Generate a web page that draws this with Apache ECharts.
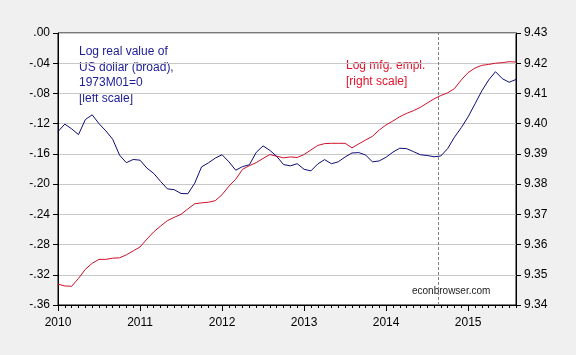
<!DOCTYPE html>
<html>
<head>
<meta charset="utf-8">
<script src="https://cdn.jsdelivr.net/npm/echarts@6/dist/echarts.min.js"></script>
<style>
  html, body { margin: 0; padding: 0; background: #f0f0f0; }
  #chart { width: 576px; height: 355px; }
</style>
</head>
<body>
<div id="chart"></div>
<script>
// Monthly observations, 2010M01 onward (index 0 = 2010M01)
const yearLabels = ['2010', '2011', '2012', '2013', '2014', '2015'];
const monthsPerYear = 12;
const lastIndex = 67;
const breakIndex = 55.6; // vertical dashed marker (mid-2014)

// Log real value of US dollar (broad), 1973M01=0 [left scale]
const dollarValues = [
  -0.1304, -0.1206, -0.1269, -0.1345, -0.1146, -0.1083, -0.1200, -0.1296, -0.1406, -0.1616,
  -0.1717, -0.1674, -0.1683, -0.1788, -0.1858, -0.1964, -0.2063, -0.2074, -0.2124, -0.2127,
  -0.1988, -0.1772, -0.1719, -0.1656, -0.1611, -0.1705, -0.1816, -0.1768, -0.1744, -0.1580,
  -0.1494, -0.1554, -0.1633, -0.1742, -0.1758, -0.1730, -0.1804, -0.1825, -0.1733, -0.1676,
  -0.1730, -0.1705, -0.1641, -0.1588, -0.1583, -0.1615, -0.1706, -0.1693, -0.1644, -0.1576,
  -0.1525, -0.1531, -0.1570, -0.1611, -0.1621, -0.1638, -0.1628, -0.1530, -0.1379, -0.1252,
  -0.1109, -0.0938, -0.0766, -0.0622, -0.0512, -0.0605, -0.0652, -0.0615
];

// Log manufacturing employment [right scale]
const mfgValues = [
  9.3469, 9.3463, 9.3462, 9.3488, 9.3518, 9.3538, 9.3551, 9.3551, 9.3555, 9.3556,
  9.3566, 9.3579, 9.3592, 9.3618, 9.3642, 9.3661, 9.3679, 9.3690, 9.3700, 9.3718,
  9.3735, 9.3738, 9.3740, 9.3745, 9.3765, 9.3793, 9.3816, 9.3849, 9.3861, 9.3871,
  9.3885, 9.3898, 9.3892, 9.3887, 9.3890, 9.3888, 9.3898, 9.3913, 9.3928, 9.3934,
  9.3935, 9.3935, 9.3935, 9.3920, 9.3933, 9.3946, 9.3958, 9.3979, 9.3996, 9.4009,
  9.4023, 9.4034, 9.4043, 9.4054, 9.4068, 9.4082, 9.4093, 9.4102, 9.4116, 9.4145,
  9.4169, 9.4184, 9.4193, 9.4196, 9.4200, 9.4202, 9.4205, 9.4204
];

const leftTicks = { min: -0.36, max: 0, interval: 0.04 };
const rightTicks = { min: 9.34, max: 9.43, interval: 0.01 };

const FONT = '"Liberation Sans", Arial, sans-serif';

const chart = echarts.init(document.getElementById('chart'), null, { renderer: 'canvas' });

function fmtLeft(v) {
  const s = (Math.round(v * 100) / 100).toFixed(2);
  return s.replace('0.', '.');
}
function fmtRight(v) {
  return (Math.round(v * 100) / 100).toFixed(2);
}

const option = {
  backgroundColor: '#f0f0f0',
  animation: false,
  grid: {
    left: 58, right: 60, top: 33, bottom: 50,
    show: true, backgroundColor: '#ffffff', borderColor: '#000000', borderWidth: 1
  },
  xAxis: [
    {
      type: 'value', min: 0, max: lastIndex, interval: monthsPerYear, position: 'bottom',
      axisLine: { show: true, onZero: false, lineStyle: { color: '#000', width: 1 } },
      axisTick: { show: true, length: 6, lineStyle: { color: '#000' } },
      axisLabel: {
        show: true, margin: 12, color: '#000', fontFamily: FONT, fontSize: 12,
        showMaxLabel: false,
        formatter: function (v) {
          const k = Math.round(v / monthsPerYear);
          return (v % monthsPerYear === 0 && yearLabels[k]) ? yearLabels[k] : '';
        }
      },
      splitLine: { show: false }
    },
    {
      type: 'value', min: 0, max: lastIndex, interval: 1, position: 'bottom',
      axisLine: { show: true, onZero: false, lineStyle: { color: '#000', width: 1 } },
      axisTick: { show: true, length: 3, lineStyle: { color: '#000' } },
      axisLabel: { show: false },
      splitLine: { show: false }
    }
  ],
  yAxis: [
    {
      type: 'value', position: 'left',
      min: leftTicks.min, max: leftTicks.max, interval: leftTicks.interval,
      axisLine: { show: true, onZero: false, lineStyle: { color: '#000' } },
      axisTick: { show: true, length: 5, lineStyle: { color: '#000' } },
      axisLabel: { margin: 8, color: '#000', fontFamily: FONT, fontSize: 12, formatter: fmtLeft },
      splitLine: { show: true, lineStyle: { color: '#c8c8c8', width: 1 } }
    },
    {
      type: 'value', position: 'right',
      min: rightTicks.min, max: rightTicks.max, interval: rightTicks.interval,
      axisLine: { show: true, onZero: false, lineStyle: { color: '#000' } },
      axisTick: { show: true, length: 5, lineStyle: { color: '#000' } },
      axisLabel: { margin: 8, color: '#000', fontFamily: FONT, fontSize: 12, formatter: fmtRight },
      splitLine: { show: false }
    }
  ],
  series: [
    {
      name: 'Log mfg. empl.', type: 'line', xAxisIndex: 0, yAxisIndex: 1,
      data: mfgValues.map((v, i) => [i, v]),
      showSymbol: false, symbol: 'none',
      lineStyle: { color: '#d0102a', width: 1 },
      z: 3
    },
    {
      name: 'Log real value of US dollar', type: 'line', xAxisIndex: 0, yAxisIndex: 0,
      data: dollarValues.map((v, i) => [i, v]),
      showSymbol: false, symbol: 'none',
      lineStyle: { color: '#0c0c78', width: 1 },
      z: 4,
      markLine: {
        silent: true, symbol: ['none', 'none'],
        label: { show: false },
        lineStyle: { color: '#808080', type: [3, 2], width: 1 },
        data: [{ xAxis: breakIndex }]
      }
    }
  ],
  graphic: [
    {
      type: 'text', left: 79, top: 44,
      style: {
        text: 'Log real value of\nUS dollar (broad),\n1973M01=0\n[left scale]',
        fill: '#1c1c96', font: '12px ' + FONT, lineHeight: 15.6
      }
    },
    {
      type: 'text', left: 346, top: 58,
      style: {
        text: 'Log mfg. empl.\n[right scale]',
        fill: '#e0142c', font: '12px ' + FONT, lineHeight: 16
      }
    },
    {
      type: 'text', left: 412, top: 286,
      style: { text: 'econbrowser.com', fill: '#1a1a1a', font: '10px ' + FONT }
    }
  ]
};

chart.setOption(option);
</script>
</body>
</html>
